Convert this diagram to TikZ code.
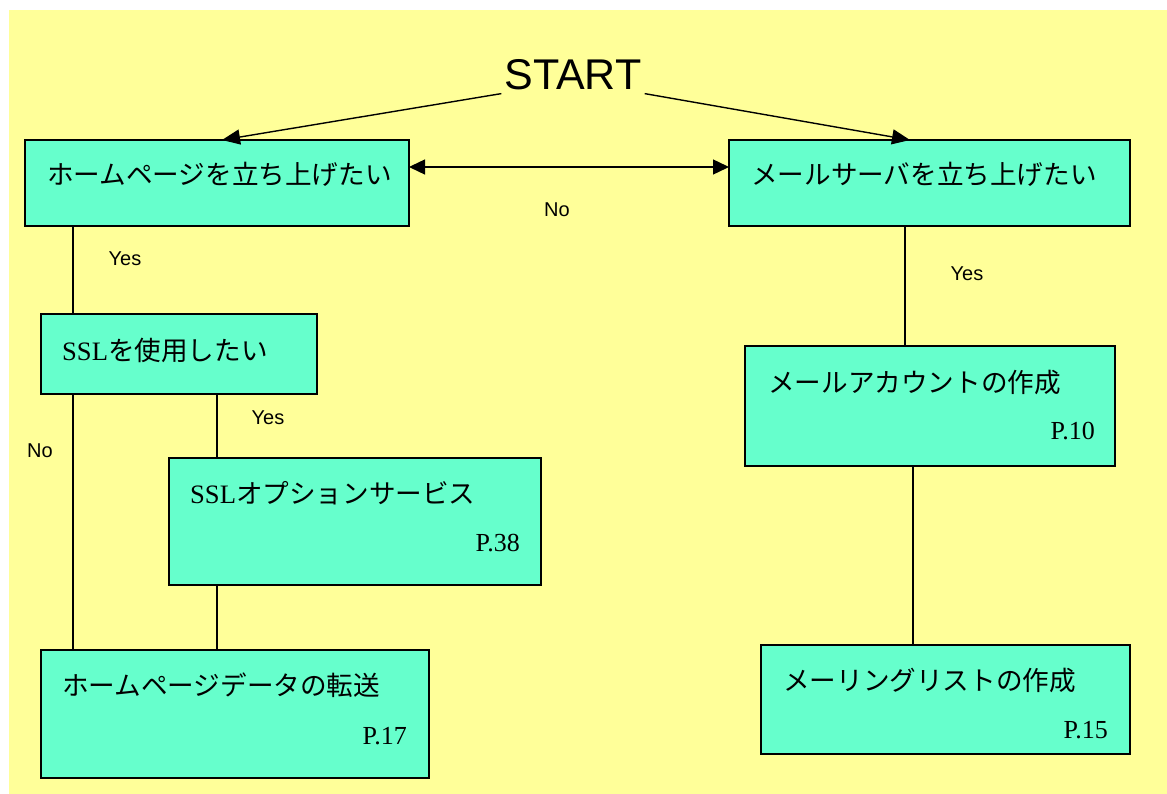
\documentclass[tikz,border=0pt]{standalone}
\usepackage{fontspec}
\setmainfont{Liberation Serif}
\setsansfont{Liberation Sans}
\newfontfamily\jp{Noto Sans CJK JP}
\usetikzlibrary{arrows.meta}
\definecolor{bgyellow}{HTML}{FFFF99}
\definecolor{boxaqua}{HTML}{66FFCC}
\begin{document}
\begin{tikzpicture}[x=1pt,y=-1pt,
  box/.style={draw=black,line width=1.8pt,fill=boxaqua,anchor=north west,inner sep=0pt,outer sep=0pt},
  boxtext/.style={anchor=base west,inner sep=0pt,font=\fontsize{26.6}{30}\selectfont},
  pagetext/.style={anchor=base east,inner sep=0pt,font=\fontsize{26}{30}\selectfont\rmfamily},
  lbl/.style={inner sep=0pt,font=\fontsize{20}{23}\selectfont\sffamily},
  conn/.style={draw=black,line width=1.4pt},
  arr/.style={conn,-{Triangle[length=18pt,width=15pt]}},
  darr/.style={conn,{Triangle[length=16pt,width=15pt]}-{Triangle[length=16pt,width=15pt]}}
]
\useasboundingbox (0,0) rectangle (1167,794);
\fill[white] (0,0) rectangle (1167,794);
\fill[bgyellow] (9,10) rectangle (1167,794);

% boxes
\node[box,minimum width=384pt,minimum height=86pt] (A) at (25,140) {};
\node[box,minimum width=401pt,minimum height=86pt] (B) at (729,140) {};
\node[box,minimum width=276pt,minimum height=80pt] (C) at (41,314) {};
\node[box,minimum width=372pt,minimum height=127pt] (D) at (169,458) {};
\node[box,minimum width=388pt,minimum height=128pt] (E) at (41,650) {};
\node[box,minimum width=370pt,minimum height=120pt] (F) at (745,346) {};
\node[box,minimum width=369pt,minimum height=109pt] (G) at (761,645) {};

% texts
\node[boxtext] (At) at (47,185) {\jp ホームページを立ち上げたい};
\node[boxtext] (Bt) at (751,185) {\jp メールサーバを立ち上げたい};
\node[boxtext] (Ct) at (62,360) {\rmfamily SSL\jp を使用したい};
\node[boxtext] (Dt) at (190,503) {\rmfamily SSL\jp オプションサービス};
\node[pagetext] (Dp) at (520,551) {P.38};
\node[boxtext] (Et) at (62,695) {\jp ホームページデータの転送};
\node[pagetext] (Ep) at (407,744) {P.17};
\node[boxtext] (Ft) at (768,392) {\jp メールアカウントの作成};
\node[pagetext] (Fp) at (1095,439) {P.10};
\node[boxtext] (Gt) at (783,690) {\jp メーリングリストの作成};
\node[pagetext] (Gp) at (1108,738) {P.15};

% START
\node[anchor=base,inner sep=3pt,font=\fontsize{43}{46}\selectfont\sffamily] (start) at (573,90) {START};

% labels
\node[lbl] (no1) at (557,210) {No};
\node[lbl] (yes1) at (125,259) {Yes};
\node[lbl] (yes2) at (268,418) {Yes};
\node[lbl] (no2) at (40,451) {No};
\node[lbl] (yes3) at (967,274) {Yes};

% helper coordinates on box edges
\coordinate (a1) at ([xshift=197pt]A.north west);
\coordinate (b1) at ([xshift=181pt]B.north west);
\coordinate (p) at ([xshift=48pt]A.south west);
\coordinate (d1) at ([xshift=48pt]D.north west);
\coordinate (f1) at ([xshift=160pt]F.north west);
\coordinate (g1) at ([xshift=152pt]G.north west);

% connectors
\draw[arr] (start.south west) -- (a1);
\draw[arr] (start.south east) -- (b1);
\draw[darr] ([yshift=16pt]A.east) -- ([yshift=16pt]B.west);
\draw[conn] (p) -- (p |- C.north);
\draw[conn] (C.south -| p) -- (E.north -| p);
\draw[conn] (C.south -| d1) -- (d1);
\draw[conn] (D.south -| d1) -- (E.north -| d1);
\draw[conn] (B.south -| f1) -- (f1);
\draw[conn] (F.south -| g1) -- (G.north -| g1);
\end{tikzpicture}
\end{document}
